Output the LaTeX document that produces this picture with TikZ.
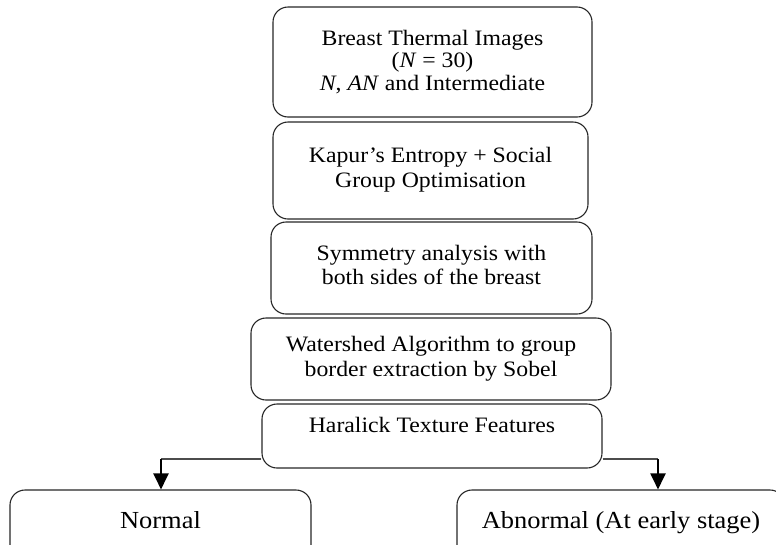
\documentclass[tikz,border=0pt]{standalone}
\usepackage{fontspec}
\setmainfont[FakeStretch=1.08]{Liberation Serif}
\usetikzlibrary{arrows.meta}
\begin{document}
\begin{tikzpicture}[x=1pt,y=-1pt,
  box/.style={draw=black!85, line width=1.1pt, rounded corners=15pt, inner sep=0pt, align=center, font=\fontsize{22}{24.5}\selectfont},
  outbox/.style={box, font=\fontsize{24.5}{26}\selectfont},
  hline/.style={line width=1.1pt, draw=black!70},
  vline/.style={line width=2pt, -{Triangle[width=15pt,length=16pt]}}]
\useasboundingbox (0,0) rectangle (776,544);
\node[box, minimum width=319pt, minimum height=110pt, font=\fontsize{22}{22.5}\selectfont] (b1) at (432.5,62)
  {Breast Thermal Images\\(\textit{N} = 30)\\\textit{N}, \textit{AN} and Intermediate};
\node[box, minimum width=315pt, minimum height=97pt, text depth=6pt] (b2) at (430.5,170.5)
  {Kapur’s Entropy + Social\\Group Optimisation};
\node[box, minimum width=321pt, minimum height=92pt, text depth=6pt] (b3) at (431.5,268)
  {Symmetry analysis with\\both sides of the breast};
\node[box, minimum width=360pt, minimum height=82pt, font=\fontsize{22}{25}\selectfont] (b4) at (431,359)
  {Watershed Algorithm to group\\border extraction by Sobel};
\node[box, minimum width=340pt, minimum height=64pt, text depth=22pt] (b5) at (432,436)
  {Haralick Texture Features};
\node[outbox, minimum width=301pt, minimum height=70pt, text depth=10pt] (n) at (160.5,525)
  {Normal};
\node[outbox, minimum width=328pt, minimum height=70pt, text depth=10pt] (a) at (621,525)
  {Abnormal (At early stage)};
\coordinate (lc) at (161,459);
\coordinate (rc) at (658,459);
\draw[hline] (b5.west |- lc) -- (lc);
\draw[vline] (lc) -- (n.north -| lc);
\draw[hline] (b5.east |- rc) -- (rc);
\draw[vline] (rc) -- (a.north -| rc);
\end{tikzpicture}
\end{document}
